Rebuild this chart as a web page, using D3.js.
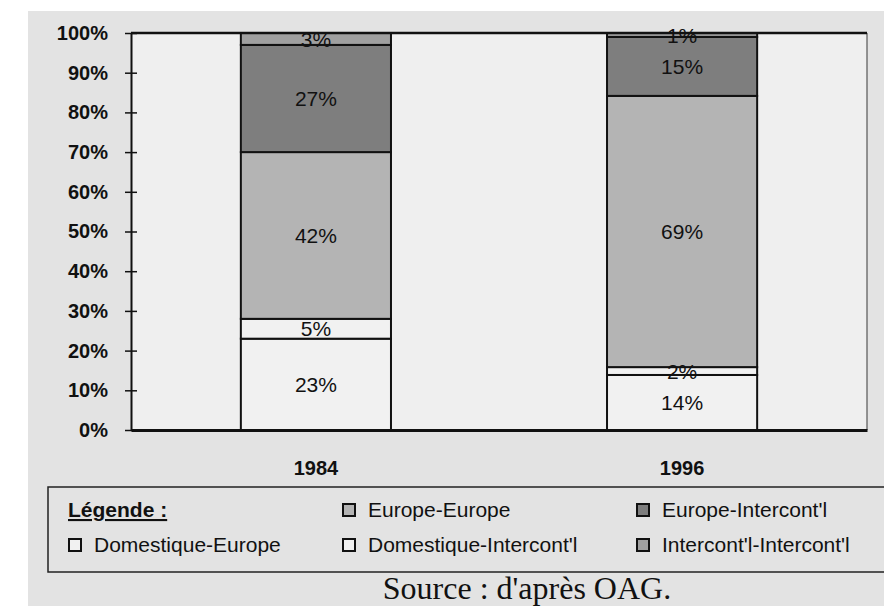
<!DOCTYPE html>
<html>
<head>
<meta charset="utf-8">
<script src="https://cdn.jsdelivr.net/npm/d3@7"></script>
<style>
  body { margin: 0; background: #fff; }
  svg { display: block; }
</style>
</head>
<body>
<div id="chart"></div>
<script>
// data (percent of traffic)
const years = ["1984", "1996"];
const seriesNames = ["Domestique-Europe", "Domestique-Intercont'l", "Europe-Europe", "Europe-Intercont'l", "Intercont'l-Intercont'l"];
const domEurope = [23, 14];
const domInter = [5, 2];
const eurEurope = [42, 69];
const eurInter = [27, 15];
const interInter = [3, 1];
const yTicks = [0, 0.1, 0.2, 0.3, 0.4, 0.5, 0.6, 0.7, 0.8, 0.9, 1];

var width = 884;
var height = 606;

var colors = {
  "Domestique-Europe": "#f1f1f1",
  "Domestique-Intercont'l": "#f1f1f1",
  "Europe-Europe": "#b4b4b4",
  "Europe-Intercont'l": "#7e7e7e",
  "Intercont'l-Intercont'l": "#a0a0a0"
};

var rows = years.map(function(y, i) {
  return {
    year: y,
    "Domestique-Europe": domEurope[i],
    "Domestique-Intercont'l": domInter[i],
    "Europe-Europe": eurEurope[i],
    "Europe-Intercont'l": eurInter[i],
    "Intercont'l-Intercont'l": interInter[i]
  };
});

var stacked = d3.stack().keys(seriesNames).offset(d3.stackOffsetExpand)(rows);

var svg = d3.select("#chart").append("svg")
  .attr("width", width)
  .attr("height", height);

// scanned page background
svg.append("rect").attr("x", 28).attr("y", 11).attr("width", width - 28).attr("height", height - 11)
  .attr("fill", "#e3e3e3");

var x = d3.scaleBand().domain(years).range([131, 867]).paddingInner(0.59).paddingOuter(0.3);
var y = d3.scaleLinear().domain([0, 1]).range([430, 33]);

// plot area
svg.append("rect")
  .attr("x", 131).attr("y", y(1))
  .attr("width", 867 - 131).attr("height", y(0) - y(1))
  .attr("fill", "#efefef")
  .attr("stroke", "none");

// right border of the plot (faint)
svg.append("line")
  .attr("x1", 867).attr("x2", 867).attr("y1", y(1)).attr("y2", y(0))
  .attr("stroke", "#555").attr("stroke-width", 1.2);

// bars
var g = svg.append("g");
g.selectAll("g.series")
  .data(stacked)
  .enter()
  .append("g")
  .attr("class", "series")
  .attr("fill", function(d) { return colors[d.key]; })
  .selectAll("rect")
  .data(function(d) { return d; })
  .enter()
  .append("rect")
  .attr("x", function(d) { return x(d.data.year); })
  .attr("y", function(d) { return y(d[1]); })
  .attr("width", x.bandwidth())
  .attr("height", function(d) { return y(d[0]) - y(d[1]); })
  .attr("stroke", "#111")
  .attr("stroke-width", 2);

// top line at 100%
svg.append("line")
  .attr("x1", 131).attr("x2", 867).attr("y1", y(1)).attr("y2", y(1))
  .attr("stroke", "#111").attr("stroke-width", 2.5);

// segment labels
stacked.forEach(function(s) {
  svg.append("g").selectAll("text")
    .data(s)
    .enter()
    .append("text")
    .attr("x", function(d) { return x(d.data.year) + x.bandwidth() / 2; })
    .attr("y", function(d) { return (y(d[0]) + y(d[1])) / 2; })
    .attr("dy", "0.36em")
    .attr("text-anchor", "middle")
    .style("font-family", "Liberation Sans, Arial, sans-serif")
    .style("font-size", "21px")
    .attr("fill", "#111")
    .text(function(d) { return d.data[s.key] + "%"; });
});

// y axis
var yAxis = svg.append("g")
  .attr("transform", "translate(131,0)")
  .call(d3.axisLeft(y).tickValues(yTicks).tickSize(0).tickPadding(23).tickFormat(d3.format(".0%")));
yAxis.select(".domain").attr("stroke", "#111").attr("stroke-width", 2);
yAxis.selectAll("text")
  .style("font-family", "Liberation Sans, Arial, sans-serif")
  .style("font-size", "20px")
  .style("font-weight", "bold")
  .attr("fill", "#111");
yAxis.selectAll(".tick").append("line")
  .attr("x1", -6).attr("x2", 6)
  .attr("stroke", "#111").attr("stroke-width", 1.5);

// x axis
var xAxis = svg.append("g")
  .attr("transform", "translate(0," + y(0) + ")")
  .call(d3.axisBottom(x).tickSize(0).tickPadding(31));
xAxis.select(".domain").attr("stroke", "#111").attr("stroke-width", 3);
xAxis.selectAll("text")
  .style("font-family", "Liberation Sans, Arial, sans-serif")
  .style("font-size", "20px")
  .style("font-weight", "bold")
  .attr("fill", "#111");

// legend box
var leg = svg.append("g");
leg.append("path")
  .attr("d", "M" + (width + 5) + ",487 H48 V572 H" + (width + 5))
  .attr("fill", "none").attr("stroke", "#222").attr("stroke-width", 1.5);

leg.append("text")
  .attr("x", 68).attr("y", 517)
  .style("font-family", "Liberation Sans, Arial, sans-serif")
  .style("font-size", "21px")
  .style("font-weight", "bold")
  .style("text-decoration", "underline")
  .attr("fill", "#111")
  .text("Légende :");

var legendItems = [
  { key: "Europe-Europe", x: 343, y: 517 },
  { key: "Europe-Intercont'l", x: 637, y: 517 },
  { key: "Domestique-Europe", x: 69, y: 552 },
  { key: "Domestique-Intercont'l", x: 343, y: 552 },
  { key: "Intercont'l-Intercont'l", x: 637, y: 552 }
];

var item = leg.selectAll("g.item")
  .data(legendItems)
  .enter()
  .append("g")
  .attr("class", "item")
  .attr("transform", function(d) { return "translate(" + d.x + "," + d.y + ")"; });
item.append("rect")
  .attr("x", 0).attr("y", -13)
  .attr("width", 12).attr("height", 12)
  .attr("fill", function(d) { return colors[d.key]; })
  .attr("stroke", "#111").attr("stroke-width", 2);
item.append("text")
  .attr("x", 25).attr("y", 0)
  .style("font-family", "Liberation Sans, Arial, sans-serif")
  .style("font-size", "21px")
  .attr("fill", "#111")
  .text(function(d) { return d.key; });

// source
svg.append("text")
  .attr("x", 527).attr("y", 599)
  .attr("text-anchor", "middle")
  .style("font-family", "Liberation Serif, Times New Roman, serif")
  .style("font-size", "32px")
  .attr("fill", "#111")
  .text("Source : d'après OAG.");
</script>
</body>
</html>
